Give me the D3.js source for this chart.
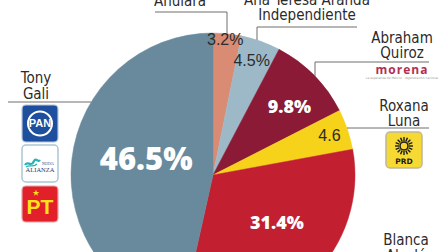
<!DOCTYPE html>
<html><head>
<meta charset="UTF-8">
<script src="https://cdnjs.cloudflare.com/ajax/libs/d3/7.8.4/d3.min.js"></script>
<style>
  body { margin: 0; background: #fff; }
  svg { display: block; }
  .name { font-family: "Liberation Sans Narrow", "DejaVu Sans Condensed", sans-serif; font-size: 15px; fill: #2b2b2b; text-anchor: middle; }
  .pct-big { font-family: "Open Sans", "Lato", sans-serif; font-weight: 800; fill: #fff; text-anchor: middle; }
  .pct-small { font-family: "Liberation Sans Narrow", sans-serif; font-size: 16px; fill: #2b2b2b; text-anchor: middle; }
</style>
</head>
<body>
<svg id="chart" width="448" height="252"></svg>
<script>
// candidates in pie order, clockwise from 12 o'clock
const candidates = ["Anulara", "Ana Teresa Aranda", "Abraham Quiroz", "Roxana Luna", "Blanca Alcalá", "Tony Gali"];
const shares = [3.2, 4.5, 9.8, 4.6, 31.4, 46.5];
const shareLabels = ["3.2%", "4.5%", "9.8%", "4.6", "31.4%", "46.5%"];
const colors = ["#d98b74", "#9db8c7", "#8a1a36", "#f6d21a", "#c21f30", "#688a9c"];

const svg = d3.select("#chart");
const cx = 213, cy = 175, R = 142;

const pie = d3.pie().sort(null).value(d => d)(shares);
const arc = d3.arc().innerRadius(0).outerRadius(R);

const g = svg.append("g").attr("transform", `translate(${cx},${cy})`);
g.selectAll("path.slice")
  .data(pie)
  .join("path")
  .attr("class", "slice")
  .attr("d", arc)
  .attr("fill", (d, i) => colors[i])
  .attr("stroke", (d, i) => colors[i])
  .attr("stroke-width", 0.5);

// label placement: radius and angle nudge per slice
const labelPos = [
  { r: 136, da: -0.6, cls: "pct-small", size: 16 },
  { r: 121, da: -1, cls: "pct-small", size: 16 },
  { r: 103, da: 2.5, cls: "pct-big", size: 18 },
  { r: 123, da: 0, cls: "pct-small", size: 16 },
  { r: 79, da: -10, cls: "pct-big", size: 18 },
  { r: 69, da: 8, cls: "pct-big", size: 31 }
];
g.selectAll("text.pct")
  .data(pie)
  .join("text")
  .attr("class", (d, i) => "pct " + labelPos[i].cls)
  .style("font-size", (d, i) => labelPos[i].size + "px")
  .attr("dominant-baseline", "central")
  .attr("x", (d, i) => {
    const a = (d.startAngle + d.endAngle) / 2 + labelPos[i].da * Math.PI / 180;
    return Math.sin(a) * labelPos[i].r;
  })
  .attr("y", (d, i) => {
    const a = (d.startAngle + d.endAngle) / 2 + labelPos[i].da * Math.PI / 180;
    return -Math.cos(a) * labelPos[i].r;
  })
  .text((d, i) => shareLabels[i]);

// leader lines that stop at the pie edge
const edgeY = x => cy - Math.sqrt(R * R - (x - cx) * (x - cx));
const edgeX = (y, side) => cx + side * Math.sqrt(R * R - (y - cy) * (y - cy));
const line = d3.line();
const lines = [
  [[155, 12], [227, 12], [227, edgeY(227)]],
  [[357, 27], [257, 27], [257, edgeY(257)]],
  [[429, 62], [315, 62], [315, edgeY(315)]],
  [[429, 128], [edgeX(128, 1), 128]],
  [[8, 102], [edgeX(102, -1), 102]]
];
svg.selectAll("path.leader")
  .data(lines)
  .join("path")
  .attr("class", "leader")
  .attr("d", line)
  .attr("fill", "none")
  .attr("stroke", "#6f6f6f")
  .attr("stroke-width", 1);

// names
function name(lines, x, y0, lh) {
  const t = svg.append("text").attr("class", "name").attr("x", x).attr("y", y0);
  lines.forEach((s, i) => t.append("tspan").attr("x", x).attr("dy", i ? lh : 0).text(s));
}
name(["Anulara"], 180, 6, 15);
name(["Ana Teresa Aranda", "Independiente"], 307, 5, 15);
name(["Abraham", "Quiroz"], 402, 43, 14.5);
name(["Roxana", "Luna"], 404, 111, 14.5);
name(["Blanca", "Alcalá"], 406, 245, 16);
name(["Tony", "Gali"], 36, 83, 15.5);

// morena logo
svg.append("text").attr("x", 402).attr("y", 74).attr("text-anchor", "middle")
  .style("font-family", "Open Sans, sans-serif").style("font-weight", 700)
  .style("font-size", "12px").style("letter-spacing", "1px").attr("fill", "#b3304f").text("morena");
svg.append("text").attr("x", 402).attr("y", 79).attr("text-anchor", "middle")
  .style("font-family", "DejaVu Sans, sans-serif").style("font-size", "3px")
  .attr("fill", "#999").text("La esperanza de México · regeneración nacional");

// PAN
svg.append("rect").attr("x", 22).attr("y", 105).attr("width", 36).attr("height", 37).attr("rx", 4)
  .attr("fill", "#1d4f9e").attr("stroke", "#b7c6dc").attr("stroke-width", 1.2);
svg.append("circle").attr("cx", 40).attr("cy", 123.5).attr("r", 12).attr("fill", "none")
  .attr("stroke", "#fff").attr("stroke-width", 2);
svg.append("text").attr("x", 40).attr("y", 127).attr("text-anchor", "middle")
  .style("font-family", "Liberation Sans Narrow, sans-serif").style("font-weight", 700)
  .style("font-size", "11px").attr("fill", "#fff").text("PAN");

// Nueva Alianza
svg.append("rect").attr("x", 22).attr("y", 145).attr("width", 36).attr("height", 37).attr("rx", 4)
  .attr("fill", "#fff").attr("stroke", "#a9c6d6").attr("stroke-width", 1.5);
svg.append("path").attr("d", "M25,165 C28,160 31,168 34,161 C36,157 38,163 40,160")
  .attr("fill", "none").attr("stroke", "#28b2b8").attr("stroke-width", 2.2);
svg.append("path").attr("d", "M26,167 C30,164 33,168 37,164")
  .attr("fill", "none").attr("stroke", "#28b2b8").attr("stroke-width", 1.2);
svg.append("text").attr("x", 48).attr("y", 165).attr("text-anchor", "middle")
  .style("font-family", "Liberation Serif, serif").style("font-size", "3.5px").attr("fill", "#1e3a78").text("NUEVA");
svg.append("text").attr("x", 40).attr("y", 172).attr("text-anchor", "middle")
  .style("font-family", "Liberation Serif, serif").style("font-size", "6.5px").attr("fill", "#1e3a78").text("ALIANZA");

// PT
svg.append("rect").attr("x", 22).attr("y", 186).attr("width", 36).attr("height", 36).attr("rx", 4)
  .attr("fill", "#e2202a").attr("stroke", "#e6a3a6").attr("stroke-width", 1.2);
svg.append("text").attr("x", 40).attr("y", 214).attr("text-anchor", "middle")
  .style("font-family", "Liberation Sans Narrow, sans-serif").style("font-weight", 700)
  .style("font-size", "21px").attr("fill", "#fde11c").text("PT");
svg.append("path").attr("d", d3.symbol(d3.symbolStar, 14)()).attr("transform", "translate(36,193)").attr("fill", "#fde11c");

// PRD
svg.append("rect").attr("x", 386).attr("y", 132).attr("width", 36).attr("height", 36).attr("rx", 4)
  .attr("fill", "#f6d932").attr("stroke", "#bdb79c").attr("stroke-width", 1.5);
const sun = svg.append("g").attr("transform", "translate(404,146)");
sun.selectAll("line").data(d3.range(16)).join("line")
  .attr("x1", d => Math.sin(d * Math.PI / 8) * 5).attr("y1", d => -Math.cos(d * Math.PI / 8) * 5)
  .attr("x2", d => Math.sin(d * Math.PI / 8) * 9).attr("y2", d => -Math.cos(d * Math.PI / 8) * 9)
  .attr("stroke", "#1a1a1a").attr("stroke-width", 1.4);
sun.append("circle").attr("r", 4).attr("fill", "none").attr("stroke", "#1a1a1a").attr("stroke-width", 1.5);
svg.append("text").attr("x", 404).attr("y", 164).attr("text-anchor", "middle")
  .style("font-family", "DejaVu Sans, sans-serif").style("font-weight", 700)
  .style("font-size", "7.5px").attr("fill", "#1a1a1a").text("PRD");
</script>
</body>
</html>
